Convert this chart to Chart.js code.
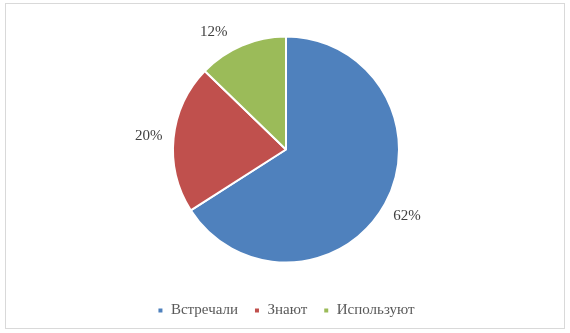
<!DOCTYPE html>
<html>
<head>
<meta charset="utf-8">
<script src="https://cdn.jsdelivr.net/npm/chart.js@4/dist/chart.umd.min.js"></script>
<style>
    html, body { margin: 0; padding: 0; background: #fff; }
    .frame {
        position: absolute; left: 5px; top: 3px; width: 560px; height: 326px;
        border: 1px solid #d9d9d9; box-sizing: border-box;
    }
    canvas { display: block; }
</style>
</head>
<body>
<div class="frame"><canvas id="pie"></canvas></div>
<script>
const categories = ['Встречали', 'Знают', 'Используют'];
const values = [62, 20, 12];
const sliceColors = ['#4F81BD', '#C0504D', '#9BBB59'];

// percent labels outside the slices, kept below the top edge
const outsideLabels = {
    id: 'outsideLabels',
    afterDatasetsDraw(chart) {
        const ctx = chart.ctx;
        const meta = chart.getDatasetMeta(0);
        ctx.save();
        ctx.font = '15px "Liberation Serif", "Times New Roman", serif';
        ctx.fillStyle = '#404040';
        ctx.textAlign = 'center';
        ctx.textBaseline = 'middle';
        meta.data.forEach((arc, i) => {
            const p = arc.getProps(['x', 'y', 'startAngle', 'endAngle', 'outerRadius'], true);
            const mid = (p.startAngle + p.endAngle) / 2;
            const r = p.outerRadius + 25;
            let x = p.x + Math.cos(mid) * r;
            let y = p.y + Math.sin(mid) * r;
            const minY = 28;
            if (y < minY) {
                y = minY;
                const dy = y - p.y;
                const dx = Math.sqrt(Math.max(r * r - dy * dy, 0));
                x = p.x + (Math.cos(mid) < 0 ? -dx : dx);
            }
            ctx.fillText(values[i] + '%', x, y);
        });
        ctx.restore();
    }
};

document.addEventListener('DOMContentLoaded', () => {
    const canvas = document.getElementById('pie');
    canvas.width = 558;
    canvas.height = 324;
    new Chart(canvas, {
        type: 'pie',
        data: {
            labels: categories,
            datasets: [{
                data: values,
                backgroundColor: sliceColors,
                borderColor: '#ffffff',
                borderWidth: 2
            }]
        },
        options: {
            responsive: false,
            animation: false,
            radius: 113,
            layout: { padding: { top: 8, left: 2, right: 0, bottom: 0 } },
            plugins: {
                legend: {
                    position: 'bottom',
                    labels: {
                        boxWidth: 6,
                        boxHeight: 6,
                        padding: 16,
                        color: '#595959',
                        font: { family: '"Liberation Serif", "Times New Roman", serif', size: 15 }
                    }
                },
                tooltip: { enabled: false }
            }
        },
        plugins: [outsideLabels]
    });
});
</script>
</body>
</html>
